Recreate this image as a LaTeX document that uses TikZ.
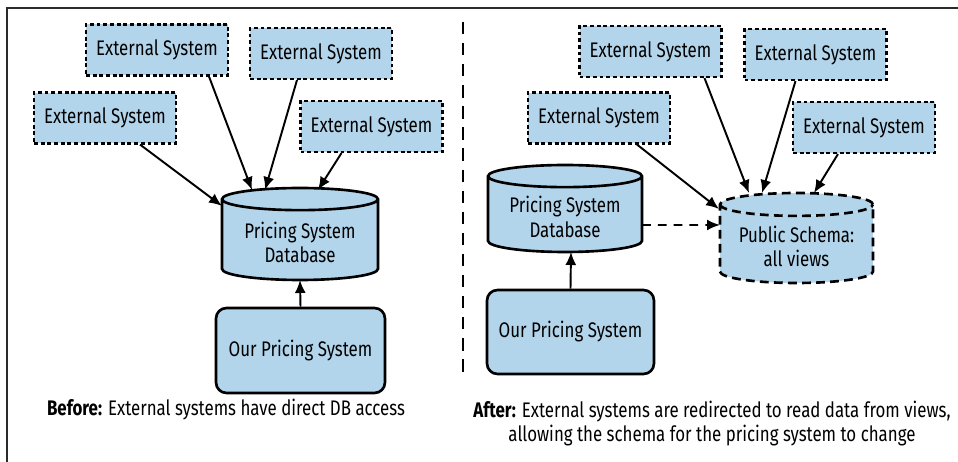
\documentclass[tikz,border=0pt]{standalone}
\usepackage{fontspec}
\setmainfont{Fira Sans}[FakeStretch=0.8]
\definecolor{BoxBlue}{HTML}{B3D5EB}
\definecolor{FrameGray}{HTML}{2B2B2B}
\usepackage{tikz}
\usetikzlibrary{shapes.geometric, arrows.meta}

\begin{document}
\begin{tikzpicture}[x=0.02cm, y=-0.02cm,
    labelfont/.style={font=\fontsize{12}{14}\selectfont},
    extbox/.style={draw, fill=BoxBlue, line width=1.2pt, dash pattern=on 2.2pt off 1.6pt,
      minimum width=2.84cm, minimum height=1.02cm, labelfont},
    dbcyl/.style={cylinder, shape border rotate=90, aspect=0.18, draw, line width=1.5pt,
      cylinder uses custom fill, cylinder body fill=BoxBlue, cylinder end fill=BoxBlue,
      anchor=shape center, align=center, labelfont},
    sysbox/.style={draw, fill=BoxBlue, rounded corners=6pt, line width=1.5pt, labelfont},
    link/.style={-{Latex[length=2.6mm,width=2.2mm]}, line width=1.1pt}]
  \useasboundingbox (0,0) rectangle (958,462);
  \draw[FrameGray, line width=0.8pt] (958,8) -- (7,8) -- (7,462);  % frame

  % before
  \node[extbox] (extA) at (157,50) {External System};
  \node[extbox] (extB) at (321,53.5) {External System};
  \node[extbox] (extC) at (105,118) {External System};
  \node[extbox] (extD) at (371.5,126.5) {External System};
  \node[dbcyl, minimum width=3.12cm, minimum height=1.84cm] (pricingDb) at (300,234) {Pricing System\\Database};
  \node[sysbox, minimum width=3.38cm, minimum height=1.7cm] (ourSys) at (300.5,350.5) {Our Pricing System};
  \draw[link] ([shift={(35,0)}]extC.south) -- ([shift={(-78,-28)}]pricingDb.shape center);
  \draw[link] ([shift={(52,0)}]extA.south) -- ([shift={(-48,-44)}]pricingDb.shape center);
  \draw[link] ([shift={(-24,0)}]extB.south) -- ([shift={(-35,-44)}]pricingDb.shape center);
  \draw[link] ([shift={(-30,0)}]extD.south) -- ([shift={(18,-44)}]pricingDb.shape center);
  \draw[link] (ourSys.north) -- ([shift={(0,46)}]pricingDb.shape center);
  \node[labelfont, align=center] (beforeText) at (226,410) {\textbf{Before:} External systems have direct DB access};

  \draw[line width=1.1pt, dash pattern=on 7pt off 5pt] (463,22) -- (463,380);

  % after
  \node[extbox] (extE) at (650.5,51.5) {External System};
  \node[extbox] (extF) at (815.5,54.5) {External System};
  \node[extbox] (extG) at (599,118) {External System};
  \node[extbox] (extH) at (864,127.5) {External System};
  \node[dbcyl, minimum width=3.08cm, minimum height=1.74cm] (pricingDbNew) at (565,208.5) {Pricing System\\Database};
  \node[dbcyl, dash pattern=on 5pt off 3pt, minimum width=3.06cm, minimum height=1.8cm] (publicSchema) at (796.5,238) {Public Schema:\\all views};
  \node[sysbox, minimum width=3.34cm, minimum height=1.68cm] (ourSysNew) at (570.5,332) {Our Pricing System};
  \draw[link] ([shift={(38,0)}]extG.south) -- ([shift={(-77.5,-29)}]publicSchema.shape center);
  \draw[link] ([shift={(54,0)}]extE.south) -- ([shift={(-47.5,-45)}]publicSchema.shape center);
  \draw[link] ([shift={(-20,0)}]extF.south) -- ([shift={(-34.5,-45)}]publicSchema.shape center);
  \draw[link] ([shift={(-26,0)}]extH.south) -- ([shift={(17.5,-45)}]publicSchema.shape center);
  \draw[link, dash pattern=on 5pt off 4pt] ([shift={(77,16.5)}]pricingDbNew.shape center) -- ([shift={(-76.5,-13)}]publicSchema.shape center);
  \draw[link] (ourSysNew.north) -- ([shift={(6,43.5)}]pricingDbNew.shape center);
  \node[labelfont, align=center] (afterText) at (712,423.5) {\textbf{After:} External systems are redirected to read data from views,\\allowing the schema for the pricing system to change};
\end{tikzpicture}
\end{document}
